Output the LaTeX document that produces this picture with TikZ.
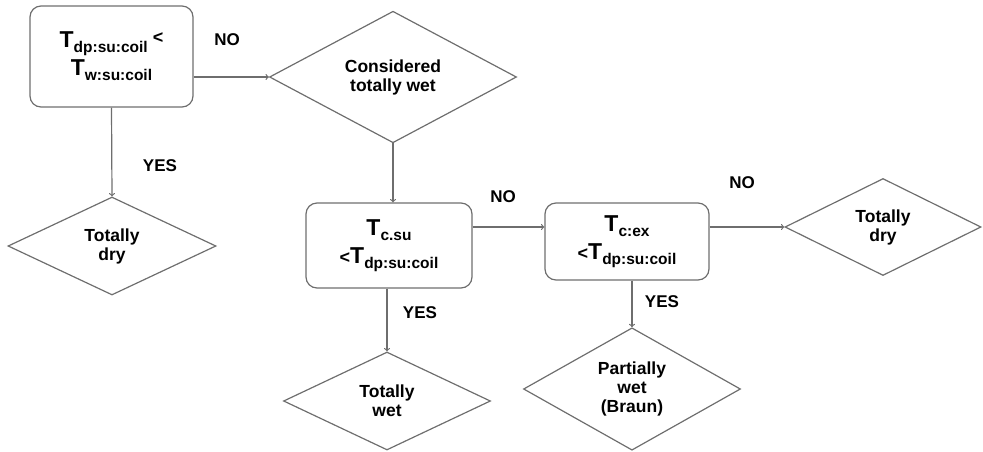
\documentclass[tikz,border=0pt]{standalone}
\usepackage{fontspec}
\setmainfont{Liberation Sans}
\usepackage{tikz}
\usetikzlibrary{shapes.geometric}

\definecolor{linegray}{HTML}{6E6E6E}
\newcommand{\Tsb}[1]{{\fontsize{23}{23}\selectfont T}\raisebox{-5pt}{\fontsize{15.5}{15.5}\selectfont #1}}

\begin{document}
\begin{tikzpicture}[x=1pt, y=-1pt,
    box/.style={draw=linegray, line width=1.2pt, rounded corners=11pt, align=center,
        inner sep=0pt, font=\bfseries\fontsize{18}{28}\selectfont},
    choice/.style={draw=linegray, line width=1.2pt, diamond, align=center,
        inner sep=0pt, font=\bfseries\fontsize{17.5}{19}\selectfont},
    lbl/.style={font=\bfseries\fontsize{17}{17}\selectfont},
    link/.style={draw=linegray, line width=1.2pt, ->}]
    \useasboundingbox (0,0) rectangle (983,451);

    % Checks
    \node[box, minimum width=163pt, minimum height=101pt] (chkdp) at (111.5,56.5)
        {\Tsb{dp:su:coil} \raisebox{4pt}{<}\\ \Tsb{w:su:coil}};
    \node[box, minimum width=166pt, minimum height=85pt] (chksu) at (389,245.5)
        {\Tsb{c.su}\\ <\Tsb{dp:su:coil}};
    \node[box, minimum width=164pt, minimum height=77pt] (chkex) at (627,241.5)
        {\Tsb{c:ex}\\ <\Tsb{dp:su:coil}};

    % Outcomes
    \node[choice, minimum width=247pt, minimum height=110pt] (wetall) at (393,77) {Considered\\ totally wet};
    \node[choice, minimum width=208pt, minimum height=98pt] (dryleft) at (112,246) {Totally\\ dry};
    \node[choice, minimum width=207pt, minimum height=98pt] (wetfull) at (387,401) {Totally\\ wet};
    \node[choice, minimum width=217pt, minimum height=112pt] (wetpart) at (632,389) {Partially\\ wet\\ (Braun)};
    \node[choice, minimum width=196pt, minimum height=97pt] (dryright) at (883,227) {Totally\\ dry};

    % Connectors
    \draw[link] (chkdp.east |- wetall.west) -- (wetall.west);
    \draw[link] (chkdp.south) -- (dryleft.north);
    \draw[link] (wetall.south) -- (wetall.south |- chksu.north);
    \draw[link] (chksu.east |- dryright.west) -- (chkex.west |- dryright.west);
    \draw[link] (chkex.east |- dryright.west) -- (dryright.west);
    \draw[link] (wetfull.north |- chksu.south) -- (wetfull.north);
    \draw[link] (wetpart.north |- chkex.south) -- (wetpart.north);

    % Labels
    \node[lbl] (no1) at (227,40) {NO};
    \node[lbl] (no2) at (503,197) {NO};
    \node[lbl] (no3) at (742,183) {NO};
    \node[lbl] (yes1) at (160,166) {YES};
    \node[lbl] (yes2) at (420,313) {YES};
    \node[lbl] (yes3) at (662,302) {YES};
\end{tikzpicture}
\end{document}
